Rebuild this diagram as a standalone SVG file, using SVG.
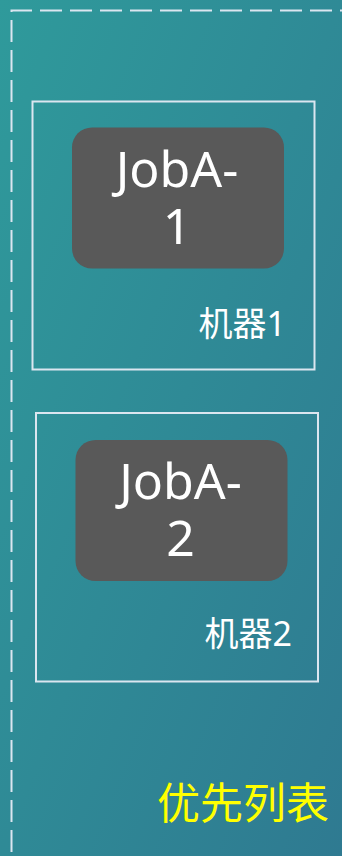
<svg xmlns="http://www.w3.org/2000/svg" width="342" height="856" viewBox="0 0 342 856">
<defs>
<linearGradient id="bg" x1="0" y1="0" x2="1" y2="1">
<stop offset="0" stop-color="#2f9a9b"/>
<stop offset="1" stop-color="#2f7a91"/>
</linearGradient>
<style>
.frame{fill:none;stroke:#dbe6f0;stroke-width:2}
.job{fill:#595959}
.jt{font-family:"Noto Sans","Open Sans","DejaVu Sans",sans-serif;font-size:50px;fill:#ffffff;text-anchor:middle}
.mt{font-family:"Noto Sans","Noto Sans CJK SC",sans-serif;font-size:34px;fill:#ffffff;text-anchor:end}
.title{font-family:"Noto Sans","Noto Sans CJK SC",sans-serif;font-size:43px;fill:#ffff00;text-anchor:end}
</style>
</defs>
<rect width="342" height="856" fill="url(#bg)"/>
<g id="priority-list">
<path d="M11.5 856 V10.5 H342" fill="none" stroke="#dbe6f0" stroke-width="2" stroke-dasharray="22 8" stroke-dashoffset="-4"/>
<text class="title" x="329" y="819">优先列表</text>
</g>
<g id="machine1">
<rect class="frame" x="32.5" y="101.5" width="282" height="268"/>
<text class="mt" x="286" y="336">机器1</text>
</g>
<g id="jobA1">
<rect class="job" x="72" y="127.5" width="212" height="141" rx="20"/>
<text class="jt" x="177" y="187">JobA-</text>
<text class="jt" x="177" y="244">1</text>
</g>
<g id="machine2">
<rect class="frame" x="36" y="413" width="282" height="268.5"/>
<text class="mt" x="292" y="646">机器2</text>
</g>
<g id="jobA2">
<rect class="job" x="75.5" y="440" width="212" height="141" rx="20"/>
<text class="jt" x="180.5" y="499">JobA-</text>
<text class="jt" x="180.5" y="556">2</text>
</g>
<g id="connectors"/>
</svg>
